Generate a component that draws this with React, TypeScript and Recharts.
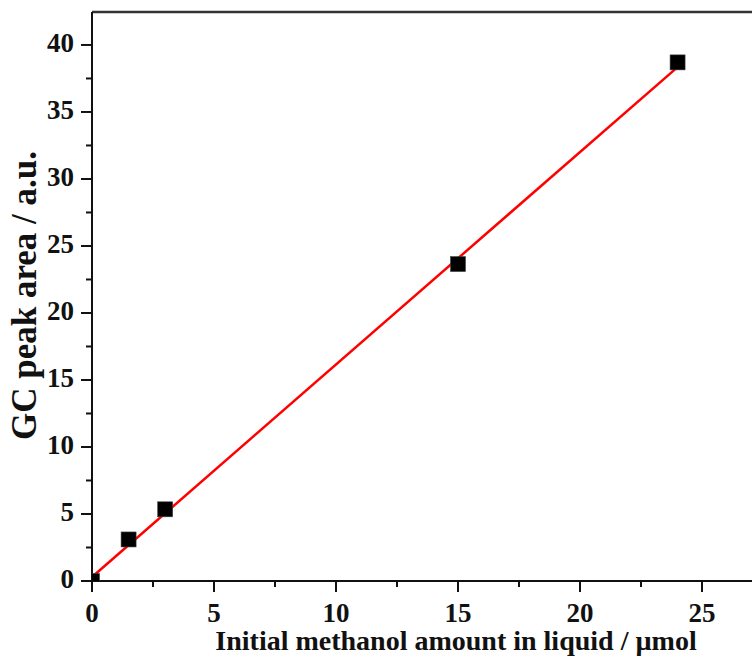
import { ComposedChart, Scatter, Line, XAxis, YAxis, Label, ReferenceLine } from 'recharts';

// measured points
const amountX = [0, 1.5, 3, 15, 24];
const peakArea = [0, 3.1, 5.35, 23.65, 38.7];

// linear fit end points
const fitX = [0, 24];
const fitY = [0.3, 38.35];

const xTicks = [0, 2.5, 5, 7.5, 10, 12.5, 15, 17.5, 20, 22.5, 25];
const yTicks = [0, 2.5, 5, 7.5, 10, 12.5, 15, 17.5, 20, 22.5, 25, 27.5, 30, 32.5, 35, 37.5, 40];

const X_MAX = 27.05;
const Y_MAX = 42.46;

const points = amountX.map((x, i) => ({ x, y: peakArea[i] }));
const fit = fitX.map((x, i) => ({ x, fit: fitY[i] }));

const FONT = '"Liberation Serif", "Times New Roman", serif';
const INK = '#111';

function XTick({ x, y, payload }: any) {
  const major = payload.value % 5 === 0;
  return (
    <g>
      <line x1={x} x2={x} y1={y} y2={y + (major ? 11 : 6)} stroke={INK} strokeWidth={2} />
      {major && (
        <text x={x} y={y + 35} textAnchor="middle" dominantBaseline="middle"
          style={{ fontFamily: FONT, fontWeight: 700, fontSize: 27, fill: INK }}>
          {payload.value}
        </text>
      )}
    </g>
  );
}

function YTick({ x, y, payload }: any) {
  const major = payload.value % 5 === 0;
  return (
    <g>
      <line x1={x} x2={x - (major ? 11 : 6)} y1={y} y2={y} stroke={INK} strokeWidth={2} />
      {major && (
        <text x={x - 18} y={y + 1} textAnchor="end" dominantBaseline="middle"
          style={{ fontFamily: FONT, fontWeight: 700, fontSize: 27, fill: INK }}>
          {payload.value}
        </text>
      )}
    </g>
  );
}

function Square({ cx, cy }: any) {
  return <rect x={cx - 7.5} y={cy - 7.5} width={15} height={15} fill="#000" stroke="#444" strokeWidth={0.6} />;
}

export default function App() {
  return (
    <div style={{ position: 'absolute', left: 0, top: 0, background: '#fff' }}>
      <ComposedChart width={752} height={660} margin={{ top: 12, right: 0, bottom: 0, left: 0 }}>
        <XAxis xAxisId="b" dataKey="x" type="number" domain={[0, X_MAX]} ticks={xTicks}
          allowDataOverflow height={79} tickSize={0} tickMargin={0} tick={<XTick />}
          axisLine={{ stroke: INK, strokeWidth: 2 }} tickLine={false}>
          <Label content={({ viewBox }: any) => (
            <text x={viewBox.x + viewBox.width / 2 + 34} y={viewBox.y + 63} textAnchor="middle" dominantBaseline="middle"
              style={{ fontFamily: FONT, fontWeight: 700, fontSize: 28, fill: INK }}>
              Initial methanol amount in liquid / µmol
            </text>
          )} />
        </XAxis>
        <YAxis yAxisId="l" type="number" domain={[0, Y_MAX]} ticks={yTicks} allowDataOverflow
          width={92} tickSize={0} tickMargin={0} tick={<YTick />} tickLine={false}
          axisLine={{ stroke: INK, strokeWidth: 2 }}>
          <Label content={({ viewBox }: any) => {
            const cx = viewBox.x + 28;
            const cy = viewBox.y + viewBox.height / 2 - 1;
            return (
              <text x={cx} y={cy} textAnchor="middle" dominantBaseline="middle" transform={`rotate(-90 ${cx} ${cy})`}
                style={{ fontFamily: FONT, fontWeight: 700, fontSize: 35, fill: INK }}>
                GC peak area / a.u.
              </text>
            );
          }} />
        </YAxis>
        <ReferenceLine xAxisId="b" yAxisId="l" y={Y_MAX} stroke="#333" strokeWidth={2.5} />
        <Line xAxisId="b" yAxisId="l" data={fit} dataKey="fit" type="linear" stroke="#ff0000"
          strokeWidth={2.5} dot={false} isAnimationActive={false} />
        <Scatter xAxisId="b" yAxisId="l" data={points} dataKey="y" shape={<Square />} isAnimationActive={false} />
      </ComposedChart>
    </div>
  );
}
